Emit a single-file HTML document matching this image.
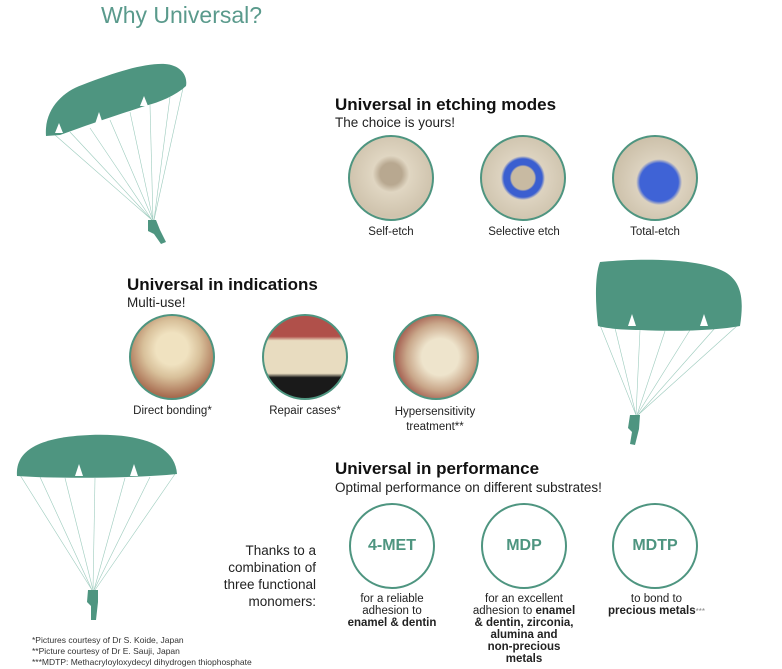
<!DOCTYPE html>
<html><head><meta charset="utf-8"><style>
body{margin:0;width:782px;height:669px;background:#fff;position:relative;font-family:"Liberation Sans",sans-serif;overflow:hidden;color:#222}
.a{position:absolute;white-space:nowrap}
.h{font-weight:bold;font-size:17px;color:#111}
.s{font-size:13.5px;color:#222}
.c{font-size:11.5px;text-align:center;color:#222}
.circ{position:absolute;border-radius:50%;border:2px solid #4e9580;box-sizing:border-box;overflow:hidden}
.pc{position:absolute;width:86px;height:86px;border:2px solid #4e9580;border-radius:50%;box-sizing:border-box;background:#fff;color:#4e9580;font-weight:bold;font-size:16px;text-align:center;line-height:82px}
</style></head><body>
<div class="a" style="left:101px;top:2px;font-size:23px;color:#5a9a8c">Why Universal?</div>

<svg width="782" height="669" style="position:absolute;left:0;top:0">
<g stroke="#9ccbbd" stroke-width="0.6">
<line x1="55" y1="135" x2="152" y2="220"/><line x1="70" y1="132" x2="152" y2="220"/><line x1="90" y1="128" x2="152" y2="220"/><line x1="110" y1="120" x2="153" y2="220"/><line x1="130" y1="112" x2="153" y2="220"/><line x1="150" y1="105" x2="153" y2="220"/><line x1="170" y1="97" x2="154" y2="220"/><line x1="183" y1="88" x2="154" y2="220"/>
<line x1="600" y1="325" x2="636" y2="415"/><line x1="615" y1="328" x2="636" y2="415"/><line x1="640" y1="330" x2="636" y2="415"/><line x1="665" y1="331" x2="637" y2="415"/><line x1="690" y1="330" x2="637" y2="415"/><line x1="715" y1="328" x2="638" y2="415"/><line x1="738" y1="325" x2="638" y2="415"/>
<line x1="20" y1="475" x2="92" y2="590"/><line x1="40" y1="477" x2="92" y2="590"/><line x1="65" y1="478" x2="93" y2="590"/><line x1="95" y1="478" x2="93" y2="590"/><line x1="125" y1="478" x2="94" y2="590"/><line x1="150" y1="477" x2="94" y2="590"/><line x1="175" y1="474" x2="95" y2="590"/>
</g>
<g fill="#4e9580">
<path d="M46,136 C44,110 62,92 82,85 C115,72 145,63 165,64 C180,65 188,75 186,86 C175,96 160,102 145,106 C120,114 90,124 60,135 Z"/>
<path d="M148,220 l8,0 l4,10 l6,12 l-5,2 l-7,-10 l-6,-3 z"/>
<path d="M600,262 C640,258 700,258 725,272 C742,282 744,300 740,326 C720,330 680,332 640,330 C620,330 605,328 598,326 C595,300 595,275 600,262 Z"/>
<path d="M630,415 l10,0 l-1,14 l-4,16 l-5,-1 l2,-12 l-4,-4 z"/>
<path d="M17,476 C15,450 40,437 90,435 C140,433 175,445 177,474 C140,478 60,479 17,476 Z"/>
<path d="M88,590 l10,0 l0,12 l-2,18 l-5,0 l0,-14 l-4,-4 z"/>
</g>
<g fill="#fff"><path d="M55,133 l4,-10 l4,10z"/><path d="M95,124 l4,-12 l4,12z"/><path d="M140,106 l4,-10 l4,10z"/><path d="M628,326 l4,-12 l4,12z"/><path d="M700,326 l4,-12 l4,12z"/><path d="M75,476 l4,-12 l4,12z"/><path d="M130,476 l4,-12 l4,12z"/></g>
</svg>

<div class="a h" style="left:335px;top:95px">Universal in etching modes</div>
<div class="a s" style="left:335px;top:115px">The choice is yours!</div>
<div class="circ" style="left:348px;top:135px;width:86px;height:86px;background:radial-gradient(circle at 50% 45%,#b8a890 0 18%,#e0d6c2 30%,#cfc3ad 70%,#e5ddd0)"></div>
<div class="circ" style="left:480px;top:135px;width:86px;height:86px;background:radial-gradient(circle at 50% 50%,#c8baa2 0 20%,#3b5fd0 23% 33%,#ddd3c0 38%,#cfc4ae 75%)"></div>
<div class="circ" style="left:612px;top:135px;width:86px;height:86px;background:radial-gradient(circle at 55% 55%,#3f63d6 0 30%,#dcd2bf 36%,#cbbfa8 75%)"></div>
<div class="a c" style="left:341px;top:226px;width:100px">Self-etch</div>
<div class="a c" style="left:474px;top:226px;width:100px">Selective etch</div>
<div class="a c" style="left:605px;top:226px;width:100px">Total-etch</div>

<div class="a h" style="left:127px;top:275px">Universal in indications</div>
<div class="a s" style="left:127px;top:295px">Multi-use!</div>
<div class="circ" style="left:129px;top:314px;width:86px;height:86px;background:radial-gradient(circle at 50% 40%,#f0e2c0 0 25%,#d8c09a 45%,#a76c50 75%,#7a3e30)"></div>
<div class="circ" style="left:262px;top:314px;width:86px;height:86px;background:linear-gradient(#b0504a 0 25%,#e8dcc0 30% 70%,#1a1a1a 75%)"></div>
<div class="circ" style="left:393px;top:314px;width:86px;height:86px;background:radial-gradient(circle at 55% 50%,#eee4cc 0 30%,#c9a78a 55%,#9a4a40 80%)"></div>
<div class="a c" style="left:115px;top:405px;width:115px">Direct bonding*</div>
<div class="a c" style="left:250px;top:405px;width:110px">Repair cases*</div>
<div class="a c" style="left:380px;top:405px;width:110px;line-height:15px">Hypersensitivity<br>treatment**</div>

<div class="a h" style="left:335px;top:459px">Universal in performance</div>
<div class="a s" style="left:335px;top:480px">Optimal performance on different substrates!</div>
<div class="pc" style="left:349px;top:503px">4-MET</div>
<div class="pc" style="left:481px;top:503px">MDP</div>
<div class="pc" style="left:612px;top:503px">MDTP</div>
<div class="a" style="left:200px;top:542px;width:116px;text-align:right;font-size:13.5px;line-height:17px">Thanks to a<br>combination of<br>three functional<br>monomers:</div>
<div class="a c" style="left:332px;top:593px;width:120px;line-height:12px">for a reliable<br>adhesion to<br><b>enamel &amp; dentin</b></div>
<div class="a c" style="left:464px;top:593px;width:120px;line-height:12px">for an excellent<br>adhesion to <b>enamel<br>&amp; dentin, zirconia,<br>alumina and<br>non-precious<br>metals</b></div>
<div class="a c" style="left:594px;top:593px;width:125px;line-height:12px">to bond to<br><b>precious metals</b><span style="font-size:8px;color:#888">***</span></div>

<div class="a" style="left:32px;top:635px;font-size:8.5px;line-height:11px;color:#333">*Pictures courtesy of Dr S. Koide, Japan<br>**Picture courtesy of Dr E. Sauji, Japan<br>***MDTP: Methacryloyloxydecyl dihydrogen thiophosphate</div>
</body></html>
